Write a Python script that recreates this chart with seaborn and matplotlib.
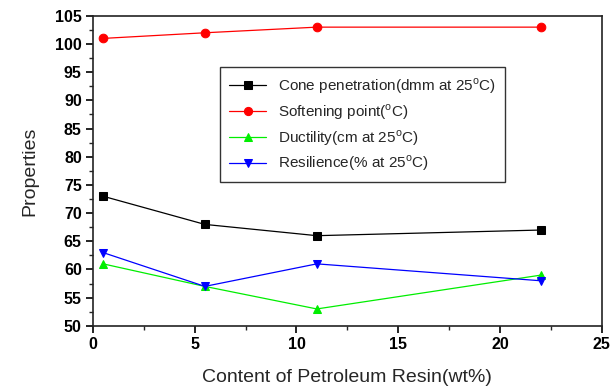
import matplotlib
matplotlib.use("Agg")
import matplotlib.pyplot as plt
import seaborn as sns
import pandas as pd
from matplotlib.ticker import MultipleLocator

resin = [0.5, 5.5, 11, 22]
cone = [73, 68, 66, 67]
softening = [101, 102, 103, 103]
ductility = [61, 57, 53, 59]
resilience = [63, 57, 61, 58]

labels = ["Cone penetration(dmm at 25$^\\mathregular{o}$C)",
          "Softening point($^\\mathregular{o}$C)",
          "Ductility(cm at 25$^\\mathregular{o}$C)",
          "Resilience(% at 25$^\\mathregular{o}$C)"]
series = [cone, softening, ductility, resilience]
colors = ["black", "#ff0000", "#00ee00", "#0000ff"]
markers = ["s", "o", "^", "v"]

sns.set_theme(style="ticks")
plt.rcParams["font.family"] = ["Liberation Sans", "DejaVu Sans"]
plt.rcParams["mathtext.fontset"] = "custom"
plt.rcParams["mathtext.rm"] = "Liberation Sans"

fig = plt.figure(figsize=(6.11, 3.87), dpi=100)
ax = fig.add_axes([0.152, 0.158, 0.833, 0.801])

for lab, vals, c, m in zip(labels, series, colors, markers):
    df = pd.DataFrame({"x": resin, "y": vals})
    sns.lineplot(data=df, x="x", y="y", ax=ax, color=c, marker=m,
                 markersize=6.2, markeredgecolor=c, linewidth=0.9, label=lab)

ax.set_xlim(0, 25)
ax.set_ylim(50, 105)
ax.xaxis.set_minor_locator(MultipleLocator(2.5))
ax.yaxis.set_minor_locator(MultipleLocator(2.5))
xt = [0, 5, 10, 15, 20, 25]
yt = [50, 55, 60, 65, 70, 75, 80, 85, 90, 95, 100, 105]
ax.set_xticks(xt)
ax.set_xticklabels([str(v) for v in xt], fontweight="bold", fontsize=11.5)
ax.set_yticks(yt)
ax.set_yticklabels([str(v) for v in yt], fontweight="bold", fontsize=11.5)
ax.tick_params(which="major", direction="out", length=5, width=1.2, colors="black", pad=3)
ax.tick_params(which="minor", direction="out", length=3, width=1.0)
for s in ax.spines.values():
    s.set_linewidth(1.2)
    s.set_color("#222222")

ax.set_xlabel("Content of Petroleum Resin(wt%)", fontsize=14, labelpad=12)
ax.set_ylabel("Properties", fontsize=14, labelpad=12)

leg = ax.legend(loc="upper left", bbox_to_anchor=(0.25, 0.835), fontsize=11,
                frameon=True, fancybox=False, edgecolor="black",
                handlelength=2.4, borderpad=0.6, labelspacing=0.4,
                borderaxespad=0, markerscale=0.95)
leg.get_frame().set_linewidth(1.0)

fig.savefig("out.png", dpi=100)
